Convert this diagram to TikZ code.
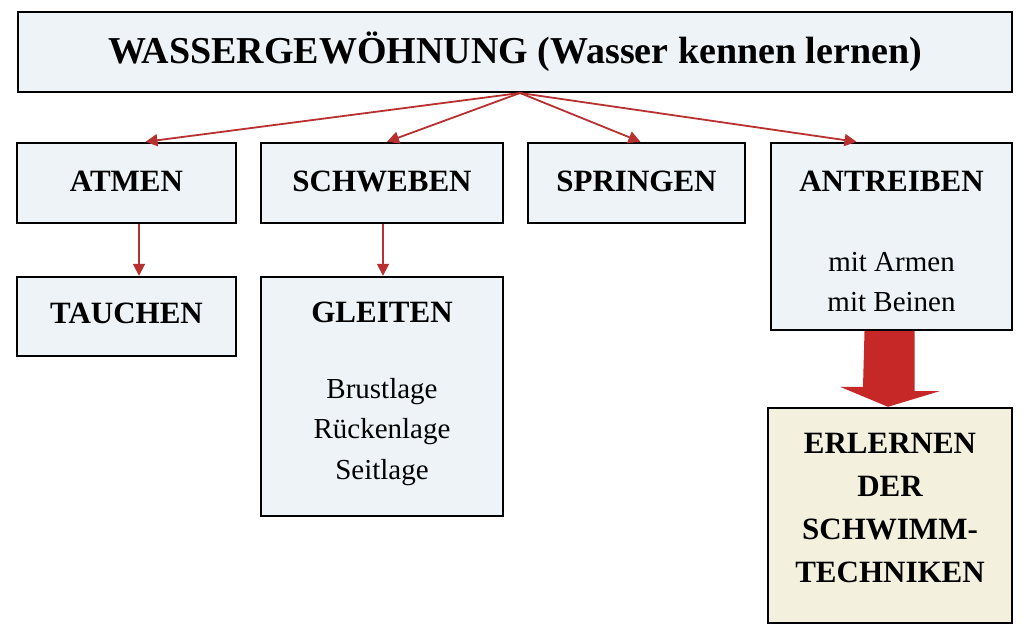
\documentclass[tikz,border=0pt]{standalone}
\usepackage{fontspec}
\setmainfont{Liberation Serif}
\usetikzlibrary{arrows.meta,calc}
\definecolor{boxfill}{HTML}{EEF3F7}
\definecolor{goalfill}{HTML}{F3F1DE}
\definecolor{arrred}{HTML}{B83030}
\definecolor{bigred}{HTML}{C62828}
\tikzset{
  box/.style={draw=black, line width=2.4pt, fill=boxfill, rectangle, inner sep=0pt},
  goal/.style={box, fill=goalfill},
  btxt/.style={font=\fontsize{31}{36}\selectfont\bfseries, inner sep=0pt},
  ttxt/.style={font=\fontsize{38}{42}\selectfont\bfseries, inner sep=0pt},
  rtxt/.style={font=\fontsize{29}{40.5}\selectfont, inner sep=0pt, align=center},
  gtxt/.style={font=\fontsize{31}{43}\selectfont\bfseries, inner sep=0pt, align=center},
  conn/.style={draw=arrred, line width=1.8pt, -{Triangle[length=12pt,width=12pt]}},
}
\begin{document}
\begin{tikzpicture}[x=1pt,y=-1pt]
\fill[white] (0,0) rectangle (1024,640);
\useasboundingbox (0,0) rectangle (1024,640);
% boxes
\node[box, minimum width=994pt, minimum height=80pt] (top) at (515,52) {};
\node[ttxt] (toptxt) at (515,52) {WASSERGEWÖHNUNG (Wasser kennen lernen)};
\node[box, minimum width=219pt, minimum height=80pt] (atmen) at (126.5,183) {};
\node[btxt] (atmentxt) at (126.5,181) {ATMEN};
\node[box, minimum width=242pt, minimum height=80pt] (schweben) at (382,183) {};
\node[btxt] (schwebentxt) at (382,181) {SCHWEBEN};
\node[box, minimum width=217pt, minimum height=80pt] (springen) at (636.5,183) {};
\node[btxt] (springentxt) at (636.5,181) {SPRINGEN};
\node[box, minimum width=241pt, minimum height=187pt] (antreiben) at (891.5,236.5) {};
\node[btxt] (antreibentxt) at (891.5,181) {ANTREIBEN};
\node[rtxt] (antreibensub) at (891.5,282) {mit Armen\\mit Beinen};
\node[box, minimum width=219pt, minimum height=79pt] (tauchen) at (126.5,316.5) {};
\node[btxt] (tauchentxt) at (126.5,313) {TAUCHEN};
\node[box, minimum width=242pt, minimum height=239pt] (gleiten) at (382,396.5) {};
\node[btxt] (gleitentxt) at (382,312) {GLEITEN};
\node[rtxt] (gleitensub) at (382,432) {Brustlage\\Rückenlage\\Seitlage};
\node[goal, minimum width=244pt, minimum height=215pt] (erlernen) at (890,515.5) {};
\node[gtxt] (erlernentxt) at (890,508) {ERLERNEN\\DER\\SCHWIMM-\\TECHNIKEN};
% connectors
\coordinate (hub) at (520,93);
\draw[conn] (hub) -- ([xshift=19pt]atmen.north);
\draw[conn] (hub) -- ([xshift=5pt]schweben.north);
\draw[conn] (hub) -- ([xshift=4pt]springen.north);
\draw[conn] (hub) -- ([xshift=-35pt]antreiben.north);
\draw[conn] ([xshift=12.5pt]atmen.south) -- ([xshift=12.5pt]tauchen.north);
\draw[conn] ([xshift=1pt]schweben.south) -- ([xshift=1pt]gleiten.north);
% big arrow
\fill[bigred] ([xshift=-27pt]antreiben.south) -- ([xshift=23pt]antreiben.south)
  -- ++(0,60) -- ++(25,0) -- ([xshift=-2pt]erlernen.north) -- ++(-48,-20)
  -- ++(23,0) -- cycle;
\end{tikzpicture}
\end{document}
